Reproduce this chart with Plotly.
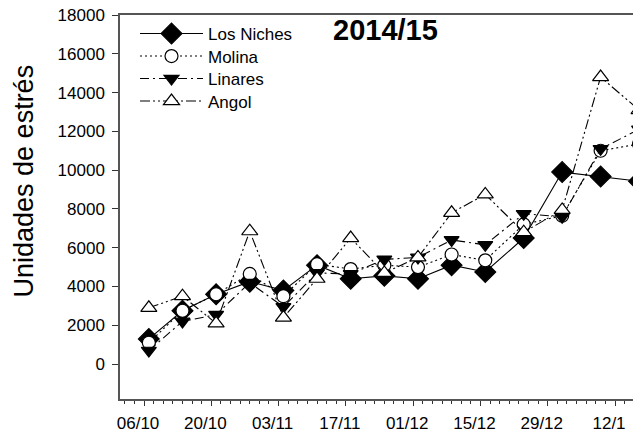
import plotly.graph_objects as go

dates = ["2014-10-07", "2014-10-14", "2014-10-21", "2014-10-28", "2014-11-04",
         "2014-11-11", "2014-11-18", "2014-11-25", "2014-12-02", "2014-12-09",
         "2014-12-16", "2014-12-24", "2015-01-01", "2015-01-09", "2015-01-17"]

los_niches = [1300, 2750, 3600, 4250, 3800, 5100, 4400, 4550, 4400, 5100, 4750, 6500, 9900, 9670, 9430]
molina     = [1100, 2750, 3600, 4650, 3500, 5150, 4900, 5100, 5000, 5650, 5350, 7200, 7650, 11000, 11350]
linares    = [700, 2200, 2550, 4200, 2950, 4700, 4650, 5400, 5500, 6400, 6150, 7750, 7600, 11100, 12100]
angol      = [2900, 3500, 2100, 6850, 2400, 4400, 6500, 4700, 5500, 7800, 8750, 6800, 7950, 14800, 13100]

tick_vals = ["2014-10-06", "2014-10-20", "2014-11-03", "2014-11-17", "2014-12-01",
             "2014-12-15", "2014-12-29", "2015-01-12"]
tick_text = ["06/10", "20/10", "03/11", "17/11", "01/12", "15/12", "29/12", "12/1"]

y_ticks = list(range(0, 18001, 2000))
y_text = [str(v) for v in y_ticks]

FONT = "Arial, Liberation Sans, sans-serif"

# The page places the figure 8px in from the top-left corner; geometry below
# is expressed in figure pixels.
OFF = 8
W, H = 641, 436
L = 120 - OFF          # y axis line
T = 15 - OFF           # top frame line
B = H - (399 - OFF)    # x axis line
PW, PH = W - L, H - T - B


def py(screen_y):
    return (H - B - (screen_y - OFF)) / PH


def px(screen_x):
    return (screen_x - OFF - L) / PW


fig = go.Figure()

series = [
    ("Los Niches", los_niches, "diamond", 16, "black", "solid", "legend"),
    ("Molina", molina, "circle", 13, "white", "2px,3px", "legend2"),
    ("Linares", linares, "triangle-down", 13, "black", "9px,4px,2px,4px", "legend3"),
    ("Angol", angol, "triangle-up", 14, "white", "10px,3px,2px,3px,2px,3px", "legend4"),
]

for name, vals, sym, size, fill, dash, lg in series:
    fig.add_trace(go.Scatter(
        x=dates, y=vals, name=name, mode="lines+markers", legend=lg,
        line=dict(color="black", width=1.1, dash=dash),
        marker=dict(symbol=sym, size=size, color=fill,
                    line=dict(color="black", width=1.2)),
    ))

row_centers = [34, 56.5, 79, 101.5]
leg_common = dict(x=px(135), xanchor="left", yanchor="middle",
                  bgcolor="rgba(0,0,0,0)", borderwidth=0,
                  font=dict(size=17, family=FONT, color="black"), itemwidth=63)

fig.update_layout(
    width=W, height=H,
    margin=dict(l=L, r=0, t=T, b=B, autoexpand=False),
    paper_bgcolor="white", plot_bgcolor="white",
    font=dict(family=FONT, size=17, color="black"),
    showlegend=True,
    legend=dict(y=py(row_centers[0]), **leg_common),
    legend2=dict(y=py(row_centers[1]), **leg_common),
    legend3=dict(y=py(row_centers[2]), **leg_common),
    legend4=dict(y=py(row_centers[3]), **leg_common),
    xaxis=dict(
        type="date", automargin=False,
        range=["2014-10-01", "2015-01-19 01:40"],
        tickmode="array", tickvals=tick_vals, ticktext=tick_text,
        ticks="outside", ticklen=5, tickwidth=1, tickcolor="#333",
        showline=True, linecolor="#555", linewidth=1.5, mirror=True,
        showgrid=False, zeroline=False,
        tickfont=dict(size=17, family=FONT),
        ticklabelshift=-6, ticklabelstandoff=3,
        ticklabeloverflow="allow",
        minor=dict(ticks="outside", ticklen=3, tickwidth=1, tickcolor="#333",
                   dtick=2 * 86400000, tick0="2014-10-06", showgrid=False),
    ),
    yaxis=dict(
        range=[-1800, 18000], automargin=False,
        tickmode="array", tickvals=y_ticks, ticktext=y_text,
        ticks="outside", ticklen=6, tickwidth=1, tickcolor="#333",
        showline=True, linecolor="#555", linewidth=1.5, mirror=False,
        showgrid=False, zeroline=False,
        tickfont=dict(size=17, family=FONT),
        ticklabelstandoff=4, ticklabeloverflow="allow",
    ),
    annotations=[
        dict(text="<b>2014/15</b>", xref="paper", yref="paper", x=px(385), y=py(30),
             xanchor="center", yanchor="middle", showarrow=False,
             font=dict(size=29, family=FONT, color="black")),
        dict(text="Unidades de estrés", xref="paper", yref="paper",
             x=px(23), y=py(181.5),
             xanchor="center", yanchor="middle", textangle=-90, showarrow=False,
             font=dict(size=27, family=FONT, color="black")),
    ],
)

fig.write_html("out.html")
